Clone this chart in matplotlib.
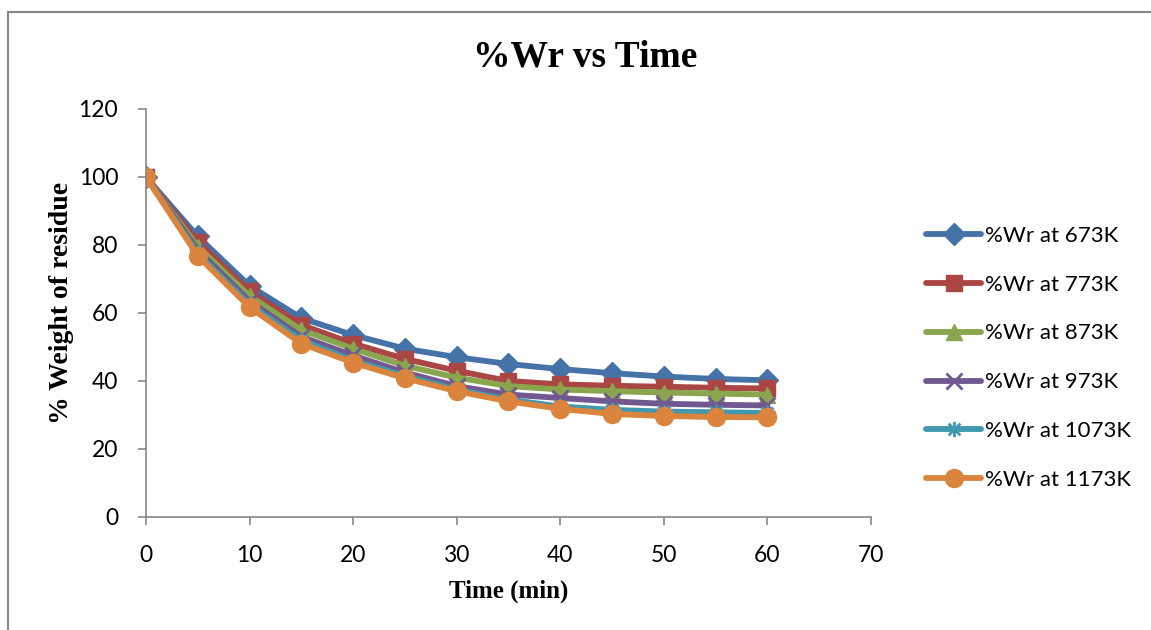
import matplotlib
matplotlib.use("Agg")
import matplotlib.pyplot as plt
from matplotlib.path import Path
from matplotlib.lines import Line2D

time_min = [0, 5, 10, 15, 20, 25, 30, 35, 40, 45, 50, 55, 60]
wr_673 = [100, 82.5, 68, 58.5, 53.5, 49.5, 47, 45, 43.5, 42.3, 41.3, 40.6, 40.2]
wr_773 = [100, 81, 66.5, 56.5, 51, 46.5, 43, 40, 39, 38.6, 38.3, 38, 37.8]
wr_873 = [100, 79.5, 65, 55, 49.5, 44.5, 41, 38.5, 37.5, 37, 36.6, 36.3, 36]
wr_973 = [100, 78.5, 63.5, 53, 47.5, 42.5, 38.5, 36, 35, 34, 33.3, 33, 32.8]
wr_1073 = [100, 77.5, 62.5, 52, 46, 41.5, 37.5, 34.5, 32.5, 31.5, 31, 30.8, 30.6]
wr_1173 = [100, 76.8, 61.7, 51, 45.4, 40.8, 37, 34, 31.8, 30.3, 29.7, 29.4, 29.3]
labels = ["%Wr at 673K", "%Wr at 773K", "%Wr at 873K", "%Wr at 973K",
          "%Wr at 1073K", "%Wr at 1173K"]

star = Path([(-1, -1), (1, 1), (-1, 1), (1, -1), (0, -1.3), (0, 1.3)],
            [Path.MOVETO, Path.LINETO, Path.MOVETO, Path.LINETO, Path.MOVETO, Path.LINETO])

styles = [
    dict(color="#4572A7", marker="D", ms=11),
    dict(color="#AA4643", marker="s", ms=12),
    dict(color="#89A54E", marker="^", ms=12),
    dict(color="#71588F", marker="x", ms=11, mew=2),
    dict(color="#4198AF", marker=star, ms=11, mew=2),
    dict(color="#DB843D", marker="o", ms=13),
]

series = [wr_673, wr_773, wr_873, wr_973, wr_1073, wr_1173]

fig = plt.figure(figsize=(11.51, 6.30), dpi=100)
ax = fig.add_axes([0.1268, 0.1794, 0.6299, 0.6476])

for vals, lab, st in zip(series, labels, styles):
    ax.plot(time_min, vals, color=st["color"], lw=4.2, marker=st["marker"],
            ms=st["ms"], mew=st.get("mew", 1), mec=st["color"], mfc=st["color"],
            label=lab, solid_capstyle="round", solid_joinstyle="round")

ax.set_xlim(0, 70)
ax.set_ylim(0, 120)
ax.set_xticks(range(0, 71, 10))
ax.set_yticks(range(0, 121, 20))
for s in ["top", "right"]:
    ax.spines[s].set_visible(False)
for s in ["left", "bottom"]:
    ax.spines[s].set_color("#868686")
    ax.spines[s].set_linewidth(1.2)
ax.tick_params(axis="both", colors="#868686", length=6, width=1.2, labelcolor="black",
               labelsize=16.5)
ax.tick_params(axis="y", pad=14)
ax.tick_params(axis="x", pad=14)
for t in ax.get_xticklabels() + ax.get_yticklabels():
    t.set_family("Lato")
ax.set_xlabel("Time (min)", fontsize=18, fontweight="bold", family="Liberation Serif", labelpad=10)
ax.set_ylabel("% Weight of residue", fontsize=20, fontweight="bold", family="Liberation Serif")
ax.yaxis.set_label_coords(-0.099, 0.525)

fig.text(0.508, 0.91, "%Wr vs Time", ha="center", va="center", fontsize=27,
         fontweight="bold", family="Liberation Serif")

leg = ax.legend(loc="center left", bbox_to_anchor=(1.048, 0.39), frameon=False,
                prop={"family": "Lato", "size": 16}, handlelength=2.5,
                labelspacing=1.3, handletextpad=0.15)

# outer chart border
fig.add_artist(Line2D([8/1151, 8/1151], [0, 1 - 12/630], color="#868686", lw=1.5,
                      transform=fig.transFigure))
fig.add_artist(Line2D([8/1151, 1], [1 - 12/630, 1 - 12/630], color="#868686", lw=1.5,
                      transform=fig.transFigure))

fig.savefig("out.png", dpi=100)
